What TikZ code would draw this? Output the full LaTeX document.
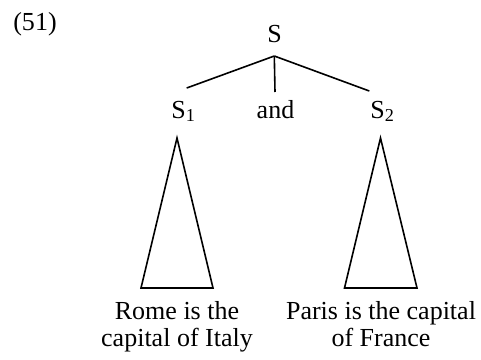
\documentclass[tikz,border=0pt]{standalone}
\usepackage{fontspec}
\setmainfont{Liberation Serif}
\begin{document}
\begin{tikzpicture}[x=1pt,y=-1pt,
  lbl/.style={anchor=base,inner sep=0pt,font=\fontsize{26}{31}\selectfont},
  branch/.style={line width=1.6pt},
  tri/.style={line width=1.6pt,line join=miter}]
\useasboundingbox (0,0) rectangle (481,359);
% example number
\node[lbl] (num) at (35,30) {(51)};
% root and its daughters
\node[lbl] (root) at (274.5,42) {S};
\node[lbl] (s1) at (183.5,118) {S\textsubscript{1}};
\node[lbl] (conj) at (275.5,118) {and};
\node[lbl] (s2) at (382.5,118) {S\textsubscript{2}};
\coordinate (top) at (274.3,56);
\coordinate (endL) at (186.7,88);
\coordinate (endM) at (275,92);
\coordinate (endR) at (369.3,91);
\draw[branch] (top) -- (endL);
\draw[branch] (top) -- (endM);
\draw[branch] (top) -- (endR);
% abbreviated subtrees
\coordinate (apexL) at (177,138);
\coordinate (baseLa) at (141,288);
\coordinate (baseLb) at (213,288);
\coordinate (apexR) at (380.5,138);
\coordinate (baseRa) at (344.5,288);
\coordinate (baseRb) at (417,288);
\draw[tri] (apexL) -- (baseLa) -- (baseLb) -- cycle;
\draw[tri] (apexR) -- (baseRa) -- (baseRb) -- cycle;
% terminal strings
\node[lbl] (t1a) at (177,319.5) {Rome is the};
\node[lbl] (t1b) at (177,346) {capital of Italy};
\node[lbl] (t2a) at (381,319.5) {Paris is the capital};
\node[lbl] (t2b) at (381,346) {of France};
\end{tikzpicture}
\end{document}
